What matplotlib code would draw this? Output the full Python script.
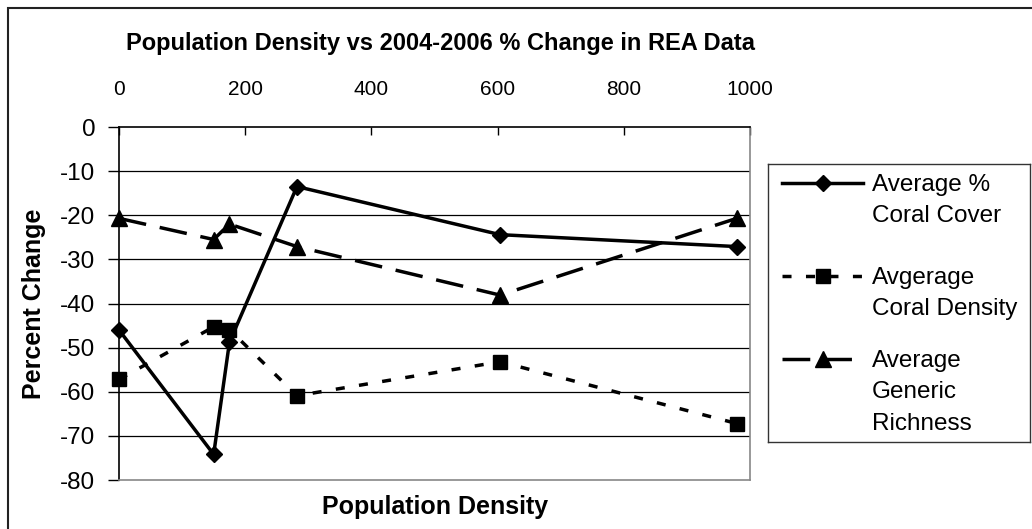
import matplotlib
matplotlib.use("Agg")
import matplotlib.pyplot as plt
from matplotlib.lines import Line2D
from matplotlib.patches import Rectangle

plt.rcParams['font.family'] = ['Liberation Sans', 'DejaVu Sans']
plt.rcParams['lines.scale_dashes'] = False
plt.rcParams['axes.unicode_minus'] = False

# data
pop_density = [0, 150, 175, 282, 604, 979]
coral_cover = [-46.0, -74.2, -48.8, -13.5, -24.4, -27.1]
coral_density = [-57.2, -45.3, -45.9, -60.9, -53.2, -67.2]
generic_richness = [-20.7, -25.5, -22.0, -27.1, -38.1, -20.7]

series_labels = [['Average %', 'Coral Cover'],
                 ['Avgerage', 'Coral Density'],
                 ['Average', 'Generic', 'Richness']]
x_ticks = [0, 200, 400, 600, 800, 1000]
y_ticks = [0, -10, -20, -30, -40, -50, -60, -70, -80]

styles = [
    dict(marker='D', ms=7.8, linestyle='-'),
    dict(marker='s', ms=10.5, dashes=(6.5, 10.4)),
    dict(marker='^', ms=11.5, dashes=(20, 10)),
]

fig = plt.figure(figsize=(10.32, 5.29), dpi=100)
fig.patches.append(Rectangle((8 / 1032, -0.05), 1.2, 1 - 8 / 529 + 0.05,
                             transform=fig.transFigure, fill=False,
                             edgecolor='#222222', lw=1.5))

ax = fig.add_axes([119 / 1032, 1 - 480 / 529, 631 / 1032, 353 / 529])
for y, st in zip([coral_cover, coral_density, generic_richness], styles):
    ax.plot(pop_density, y, color='black', lw=2.5, mfc='black', mec='black',
            clip_on=False, zorder=3, **st)

ax.set_xlim(0, 1000)
ax.set_ylim(-80, 0)
ax.set_xticks(x_ticks)
ax.set_yticks(y_ticks)
ax.xaxis.tick_top()
ax.tick_params(axis='x', direction='in', length=6, width=1, pad=20,
               labelsize=15)
ax.tick_params(axis='y', direction='out', length=8, width=1, pad=9,
               labelsize=17.5)
for v in y_ticks[1:-1]:
    ax.axhline(v, color='black', lw=0.9, zorder=1)
ax.spines['left'].set_color('black')
ax.spines['top'].set_color('black')
ax.spines['right'].set_color('#888888')
ax.spines['bottom'].set_color('#888888')
for s in ax.spines.values():
    s.set_linewidth(1.2)

ax.set_ylabel('Percent Change', fontsize=18, fontweight='bold', labelpad=10)
fig.text(435 / 1032, 1 - 507 / 529, 'Population Density', ha='center',
         va='center', fontsize=18, fontweight='bold')
fig.text(440 / 1032, 1 - 50 / 529,
         'Population Density vs 2004-2006 % Change in REA Data',
         ha='center', va='baseline', fontsize=17, fontweight='bold')

# legend box drawn in pixel units
lax = fig.add_axes([768 / 1032, 1 - 442 / 529, 262 / 1032, 278 / 529])
lax.set_xlim(0, 262)
lax.set_ylim(278, 0)
lax.set_xticks([])
lax.set_yticks([])
for s in lax.spines.values():
    s.set_color('#333333')
    s.set_linewidth(1)
entry_y = [19, 112, 195]
for yy, st, lines in zip(entry_y, styles, series_labels):
    line_style = {k: v for k, v in st.items() if k not in ('marker', 'ms')}
    lax.add_line(Line2D([14, 95], [yy, yy], color='black', lw=2.5,
                        **line_style))
    lax.add_line(Line2D([54.5], [yy], color='black', lw=0,
                        marker=st['marker'], ms=st['ms'],
                        mfc='black', mec='black'))
    for i, txt in enumerate(lines):
        lax.text(104, yy + 8 + i * 31.5, txt, ha='left', va='baseline',
                 fontsize=17.5)

fig.savefig('out.png', dpi=100)
